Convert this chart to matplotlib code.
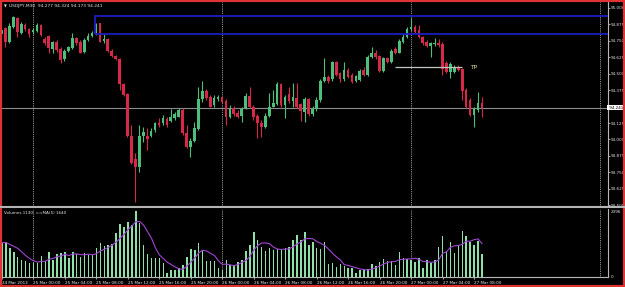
import numpy as np
import pandas as pd
import matplotlib
matplotlib.use("Agg")
import matplotlib.pyplot as plt
from matplotlib.patches import Rectangle
from matplotlib.lines import Line2D

# ---------------- data (USDJPY M30, bar index 0 = 24 Mar 2013 20:00) ----------------
opens = [94.800, 94.842, 94.736, 94.855, 94.918, 94.809, 94.870, 94.835, 94.817, 94.824,
         94.867, 94.759, 94.784, 94.683, 94.736, 94.683, 94.607, 94.673, 94.691, 94.766,
         94.741, 94.665, 94.754, 94.784, 94.799, 94.880, 94.749, 94.759, 94.673, 94.633,
         94.607, 94.420, 94.345, 94.027, 93.850, 93.789, 94.027, 94.027, 94.027, 94.072,
         94.128, 94.123, 94.153, 94.143, 94.160, 94.173, 94.224, 94.052, 93.941, 93.991,
         94.077, 94.304, 94.370, 94.319, 94.261, 94.304, 94.319, 94.294, 94.168, 94.236,
         94.203, 94.178, 94.236, 94.330, 94.244, 94.178, 94.128, 94.092, 94.178, 94.249,
         94.269, 94.420, 94.261, 94.345, 94.294, 94.312, 94.269, 94.211, 94.304, 94.193,
         94.229, 94.299, 94.446, 94.476, 94.456, 94.590, 94.501, 94.456, 94.527, 94.489,
         94.446, 94.451, 94.527, 94.489, 94.628, 94.658, 94.633, 94.521, 94.615, 94.590,
         94.683, 94.658, 94.741, 94.774, 94.835, 94.850, 94.830, 94.774, 94.741, 94.708,
         94.723, 94.734, 94.723, 94.577, 94.514, 94.514, 94.552, 94.532, 94.375, 94.299,
         94.186, 94.224, 94.277]
highs = [94.845, 94.855, 94.880, 94.936, 94.930, 94.893, 94.880, 94.842, 94.842, 94.880,
         94.875, 94.779, 94.792, 94.749, 94.754, 94.698, 94.683, 94.708, 94.804, 94.779,
         94.754, 94.766, 94.804, 94.824, 94.885, 94.885, 94.799, 94.766, 94.683, 94.640,
         94.615, 94.430, 94.350, 94.110, 93.895, 94.110, 94.097, 94.085, 94.085, 94.135,
         94.160, 94.186, 94.173, 94.229, 94.211, 94.236, 94.236, 94.110, 94.009, 94.135,
         94.400, 94.446, 94.380, 94.337, 94.337, 94.337, 94.330, 94.304, 94.261, 94.254,
         94.224, 94.249, 94.355, 94.400, 94.261, 94.193, 94.148, 94.198, 94.350, 94.375,
         94.438, 94.430, 94.337, 94.395, 94.426, 94.426, 94.279, 94.319, 94.312, 94.254,
         94.319, 94.456, 94.615, 94.489, 94.597, 94.597, 94.514, 94.590, 94.539, 94.501,
         94.489, 94.532, 94.547, 94.640, 94.698, 94.678, 94.640, 94.628, 94.628, 94.683,
         94.698, 94.759, 94.799, 94.850, 94.918, 94.867, 94.867, 94.784, 94.754, 94.741,
         94.766, 94.759, 94.741, 94.597, 94.590, 94.564, 94.564, 94.539, 94.388, 94.312,
         94.244, 94.362, 94.324]
lows = [94.790, 94.703, 94.728, 94.842, 94.779, 94.799, 94.824, 94.779, 94.800, 94.817,
        94.784, 94.716, 94.658, 94.658, 94.665, 94.582, 94.597, 94.665, 94.683, 94.716,
        94.653, 94.653, 94.749, 94.779, 94.792, 94.736, 94.728, 94.665, 94.622, 94.602,
        94.375, 94.330, 94.022, 93.815, 93.529, 93.756, 93.984, 93.920, 94.020, 94.059,
        94.097, 94.110, 94.097, 94.135, 94.148, 94.168, 94.034, 93.933, 93.865, 93.984,
        94.072, 94.287, 94.299, 94.244, 94.249, 94.294, 94.274, 94.110, 94.160, 94.178,
        94.160, 94.135, 94.229, 94.236, 94.148, 94.009, 94.022, 94.085, 94.168, 94.244,
        94.261, 94.249, 94.160, 94.279, 94.249, 94.236, 94.143, 94.135, 94.178, 94.178,
        94.219, 94.287, 94.438, 94.431, 94.446, 94.481, 94.438, 94.446, 94.463, 94.431,
        94.438, 94.446, 94.481, 94.481, 94.615, 94.607, 94.514, 94.514, 94.577, 94.582,
        94.648, 94.653, 94.733, 94.766, 94.824, 94.804, 94.766, 94.716, 94.698, 94.628,
        94.708, 94.703, 94.489, 94.501, 94.463, 94.501, 94.521, 94.299, 94.236, 94.178,
        94.097, 94.211, 94.173]
closes = [94.830, 94.741, 94.860, 94.925, 94.817, 94.875, 94.835, 94.799, 94.829, 94.867,
          94.792, 94.728, 94.691, 94.736, 94.678, 94.602, 94.673, 94.698, 94.766, 94.728,
          94.658, 94.754, 94.784, 94.809, 94.875, 94.741, 94.759, 94.673, 94.633, 94.607,
          94.420, 94.337, 94.027, 93.820, 93.789, 94.027, 94.059, 94.001, 94.067, 94.128,
          94.110, 94.160, 94.110, 94.173, 94.193, 94.224, 94.047, 93.941, 93.991, 94.085,
          94.304, 94.370, 94.312, 94.249, 94.312, 94.319, 94.287, 94.173, 94.229, 94.193,
          94.173, 94.229, 94.330, 94.244, 94.173, 94.123, 94.092, 94.178, 94.249, 94.274,
          94.420, 94.261, 94.319, 94.294, 94.319, 94.244, 94.219, 94.304, 94.193, 94.229,
          94.299, 94.446, 94.476, 94.446, 94.590, 94.489, 94.456, 94.527, 94.476, 94.438,
          94.481, 94.521, 94.489, 94.628, 94.658, 94.622, 94.521, 94.615, 94.590, 94.673,
          94.658, 94.749, 94.774, 94.835, 94.855, 94.817, 94.774, 94.728, 94.708, 94.728,
          94.734, 94.716, 94.532, 94.514, 94.572, 94.552, 94.527, 94.370, 94.249, 94.186,
          94.229, 94.279, 94.241]
volumes = [1240, 1253, 1034, 912, 730, 608, 571, 511, 486, 486,
           754, 571, 912, 608, 827, 851, 888, 669, 912, 827,
           730, 851, 790, 790, 1034, 1240, 1119, 1155, 1192, 1605,
           1921, 1824, 2006, 1885, 2396, 1946, 1155, 827, 669, 669,
           669, 486, 146, 243, 243, 304, 426, 705, 997, 973,
           1240, 920, 560, 571, 571, 304, 243, 608, 426, 426,
           547, 608, 948, 1155, 1617, 1338, 1094, 948, 1034, 973,
           997, 997, 1034, 1094, 1338, 1520, 1338, 1642, 1155, 1252,
           1034, 997, 1277, 462, 511, 365, 462, 389, 328, 304,
           146, 243, 268, 268, 462, 389, 547, 632, 584, 584,
           426, 888, 680, 650, 608, 547, 669, 304, 608, 486,
           608, 1070, 1484, 912, 1277, 876, 1155, 1678, 1484, 1277,
           1155, 1301, 815]

time_tick_bars = [0, 8, 16, 24, 32, 40, 48, 56, 64, 72, 80, 88, 96, 104, 112, 120]
time_tick_labels = ["24 Mar 2013", "25 Mar 00:00", "25 Mar 04:00", "25 Mar 08:00",
                    "25 Mar 12:00", "25 Mar 16:00", "25 Mar 20:00", "26 Mar 00:00",
                    "26 Mar 04:00", "26 Mar 08:00", "26 Mar 12:00", "26 Mar 16:00",
                    "26 Mar 20:00", "27 Mar 00:00", "27 Mar 04:00", "27 Mar 08:00"]
day_separator_bars = [8, 56, 104, 152]
price_ticks = [95.000, 94.875, 94.750, 94.625, 94.500, 94.375, 94.125,
               94.000, 93.875, 93.750, 93.625, 93.500]
price_tick_labels = ["95.000", "94.875", "94.750", "94.625", "94.500", "94.375", "94.125",
                     "94.000", "93.875", "93.750", "93.625", "93.500"]
bid_price = 94.241
zone_top, zone_bottom, zone_start_bar = 94.936, 94.799, 23.85
tp_price, tp_start_bar, tp_end_bar = 94.549, 100, 117
vol_max_label = 2396

# ---------------- styling ----------------
GREEN = "#4cc07a"
RED = "#d6294a"
VOLC = "#8fe0a8"
MAC = "#a244d4"
GRID = "#c8c8c8"
TXT = "#e6e6e6"

W, H = 625, 287
fig = plt.figure(figsize=(W / 100, H / 100), dpi=100, facecolor="black")

def fx(px):
    return px / W

def fy(py):
    return 1 - py / H

ax = fig.add_axes([fx(2), fy(206), fx(606), 204 / H], facecolor="black")
axv = fig.add_axes([fx(2), fy(277), fx(606), 68 / H], facecolor="black")

k = np.arange(len(opens))
o = np.array(opens); h = np.array(highs); l = np.array(lows); c = np.array(closes)
up = c >= o
cols = np.where(up, GREEN, RED)

ax.vlines(k, l, h, colors=cols, lw=0.8, zorder=3)
body_bottom = np.minimum(o, c)
body_h = np.maximum(np.abs(c - o), 0.004)
ax.bar(k, body_h, bottom=body_bottom, width=0.68, color=cols, linewidth=0, zorder=4)

xmin, xmax = 0.127, 0.127 + 606 / 3.9375
ax.set_xlim(xmin, xmax)
ax.set_ylim(93.496, 95.042)

# bid line
ax.axhline(bid_price, color="#8c8c8c", lw=0.8, zorder=2)
# blue zone
ax.add_patch(Rectangle((zone_start_bar, zone_bottom), 300, zone_top - zone_bottom,
                       fill=False, ec="#1c1cc0", lw=1.3, zorder=5))
# TP line
ax.hlines(tp_price, tp_start_bar, tp_end_bar, color="#c4c4c4", lw=0.9, zorder=5)
ax.text(tp_end_bar + 2, tp_price, "TP", color="#e8e09a", fontsize=4.3, va="center", ha="left")

for b in day_separator_bars:
    ax.axvline(b, color=GRID, ls=(0, (1, 1.2)), lw=0.6, zorder=1)
    axv.axvline(b, color=GRID, ls=(0, (1, 1.2)), lw=0.6, zorder=1)

ax.yaxis.tick_right()
ax.set_yticks(price_ticks)
ax.set_yticklabels(price_tick_labels)
ax.tick_params(axis="y", colors=TXT, labelsize=3, length=1.5, pad=0.8, width=0.5)
ax.set_xticks([])
for s in ["left", "top", "bottom"]:
    ax.spines[s].set_visible(False)
ax.spines["right"].set_color("#b8b8b8")
ax.spines["right"].set_linewidth(0.8)

# bid label box
ax.text(1.0, bid_price, " 94.241", transform=ax.get_yaxis_transform(), fontsize=3,
        color="black", va="center", ha="left", clip_on=False,
        bbox=dict(boxstyle="square,pad=0.15", fc="white", ec="white", lw=0))

# ---------------- volume panel ----------------
v = np.array(volumes, dtype=float)
ma5 = pd.Series(v).rolling(5, min_periods=1).mean().values
axv.bar(k, v, width=0.38, color=VOLC, linewidth=0, zorder=3)
axv.plot(k, ma5, color=MAC, lw=0.8, zorder=4)
axv.set_xlim(xmin, xmax)
axv.set_ylim(-11, 2469)
axv.yaxis.tick_right()
axv.set_yticks([vol_max_label, 0])
axv.set_yticklabels([str(vol_max_label), "0"])
axv.tick_params(axis="y", colors=TXT, labelsize=3, length=0, pad=2)
axv.set_xticks(time_tick_bars)
axv.set_xticklabels(time_tick_labels, ha="left")
axv.tick_params(axis="x", colors=TXT, labelsize=3, length=1.5, width=0.5, pad=1.2)
for s in ["left", "top"]:
    axv.spines[s].set_visible(False)
for s in ["right", "bottom"]:
    axv.spines[s].set_color("#b8b8b8")
    axv.spines[s].set_linewidth(0.8)
axv.text(fx(4) / fx(606) - 0.0, 0.95, "", transform=axv.transAxes)
fig.text(fx(4), fy(212.5), "Volumes 1130  ==MA(5) 1640", fontsize=3, color=TXT,
         va="center", ha="left")

# title
fig.text(fx(3.5), fy(6), "\u25BC", fontsize=2.6, color=TXT, va="center", ha="left")
fig.text(fx(9), fy(6), "USDJPY,M30  94.277 94.324 94.173 94.241", fontsize=3.2,
         color=TXT, va="center", ha="left")

# separator between panels
fig.add_artist(Line2D([0, 1], [fy(207.3), fy(207.3)], transform=fig.transFigure,
                      color="#b4b4b4", lw=1.5))
# red frame
fig.add_artist(Rectangle((0, 0), 1, 1, transform=fig.transFigure, fill=False,
                         ec="#e03232", lw=3))

fig.savefig("out.png", dpi=100, facecolor="black")
